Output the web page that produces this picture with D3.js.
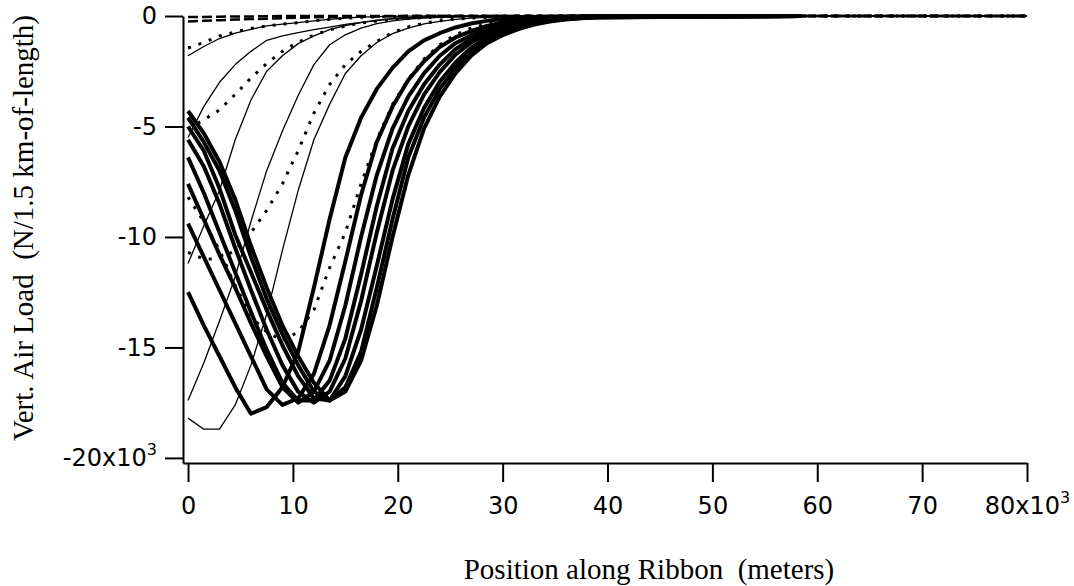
<!DOCTYPE html>
<html>
<head>
<meta charset="utf-8">
<script src="https://cdn.jsdelivr.net/npm/d3@7"></script>
<style>
  html, body { margin: 0; padding: 0; background: #fff; }
  svg { display: block; }
</style>
</head>
<body>
<svg id="chart" width="1074" height="586"></svg>
<script>
// Sample positions along the ribbon (km): 1.5 km segments, then the far tail
const positionKm = [0, 1.5, 3, 4.5, 6, 7.5, 9, 10.5, 12, 13.5, 15, 16.5, 18, 19.5,
  21, 22.5, 24, 25.5, 27, 28.5, 30, 31.5, 33, 34.5, 36, 37.5, 39, 58.5, 80];

// Vertical air load per 1.5 km segment, in units of 10^3 N.
// Heavy traces (run to 58.5 km)
const heavy1 = [-12.5, -14.0, -15.4, -16.8, -18.0, -17.7, -16.8, -15.2, -12.3, -9.2, -6.4, -4.6, -3.3, -2.35,
  -1.6, -1.1, -0.78, -0.52, -0.34, -0.22, -0.14, -0.09, -0.06, -0.04, -0.02, -0.01, 0, 0];
const heavy2 = [-9.4, -10.9, -12.4, -13.9, -15.4, -16.9, -17.6, -17.3, -16.2, -14.0, -11.1, -8.1, -5.7, -4.1,
  -2.9, -2.05, -1.4, -0.97, -0.68, -0.45, -0.29, -0.19, -0.12, -0.08, -0.05, -0.03, -0.02, 0];
const heavy3 = [-7.6, -9.2, -10.8, -12.3, -13.9, -15.4, -16.8, -17.5, -17.0, -15.6, -13.1, -10.0, -7.2, -5.1,
  -3.65, -2.6, -1.8, -1.23, -0.87, -0.59, -0.39, -0.25, -0.16, -0.1, -0.07, -0.05, -0.03, 0];
const heavy4 = [-6.4, -8.0, -9.8, -11.6, -13.4, -15.1, -16.6, -17.4, -17.4, -16.5, -14.6, -11.7, -8.6, -6.0,
  -4.3, -3.1, -2.2, -1.5, -1.04, -0.73, -0.48, -0.32, -0.2, -0.13, -0.085, -0.056, -0.036, 0];
const heavy5 = [-5.6, -6.8, -8.5, -10.5, -12.4, -14.2, -15.8, -17.0, -17.5, -17.0, -15.5, -12.9, -9.8, -7.0,
  -5.0, -3.56, -2.54, -1.75, -1.2, -0.84, -0.57, -0.38, -0.24, -0.16, -0.1, -0.066, -0.044, 0];
const heavy6 = [-5.0, -6.1, -7.8, -9.9, -11.6, -13.3, -14.9, -16.3, -17.3, -17.4, -16.3, -14.2, -11.3, -8.3,
  -5.8, -4.17, -2.98, -2.1, -1.43, -0.99, -0.69, -0.46, -0.3, -0.19, -0.12, -0.08, -0.053, 0];
const heavy7 = [-4.6, -5.7, -7.0, -8.8, -10.9, -12.8, -14.4, -15.8, -17.0, -17.4, -16.8, -15.2, -12.3, -9.2,
  -6.4, -4.6, -3.3, -2.35, -1.6, -1.1, -0.78, -0.52, -0.34, -0.22, -0.14, -0.09, -0.06, 0];
const heavy8 = [-4.3, -5.3, -6.6, -8.3, -10.4, -12.3, -14.0, -15.4, -16.6, -17.4, -17.0, -15.6, -13.1, -10.0,
  -7.2, -5.1, -3.65, -2.6, -1.8, -1.23, -0.87, -0.59, -0.39, -0.25, -0.16, -0.1, -0.07, 0];

// Light solid traces (run to 80 km)
const light1 = [-18.2, -18.7, -18.7, -17.6, -15.8, -13.5, -10.6, -7.9, -5.6, -4.0, -2.6, -1.8, -1.2, -0.8,
  -0.55, -0.36, -0.24, -0.15, -0.1, -0.06, -0.04, -0.03, -0.02, -0.01, -0.01, 0, 0, 0, 0];
const light2 = [-17.4, -15.7, -13.8, -11.8, -9.3, -7.0, -5.2, -3.6, -2.2, -1.3, -0.85, -0.55, -0.35, -0.22,
  -0.14, -0.09, -0.06, -0.04, -0.03, -0.02, -0.01, -0.01, 0, 0, 0, 0, 0, 0, 0];
const light3 = [-11.2, -9.5, -7.9, -5.6, -3.8, -2.5, -1.8, -1.25, -0.9, -0.62, -0.43, -0.3, -0.2, -0.13,
  -0.08, -0.05, -0.03, -0.02, -0.01, 0, 0, 0, 0, 0, 0, 0, 0, 0, 0];
const light4 = [-5.5, -4.1, -3.0, -2.2, -1.6, -1.1, -0.9, -0.75, -0.62, -0.5, -0.38, -0.29, -0.2, -0.12,
  -0.08, -0.05, -0.03, -0.02, -0.01, 0, 0, 0, 0, 0, 0, 0, 0, 0, 0];
const light5 = [-1.8, -1.38, -1.02, -0.78, -0.6, -0.45, -0.37, -0.3, -0.22, -0.15, -0.09, -0.05, -0.03, -0.02,
  -0.01, 0, 0, 0, 0, 0, 0, 0, 0, 0, 0, 0, 0, 0, 0];

// Dotted traces
const dotted1 = [-1.45, -1.2, -0.9, -0.72, -0.56, -0.45, -0.37, -0.3, -0.22, -0.15, -0.1, -0.06, -0.04, -0.02,
  -0.01, 0, 0, 0, 0, 0, 0, 0, 0, 0, 0, 0, 0, 0, 0];
const dotted2 = [-5.1, -4.7, -4.25, -3.55, -2.8, -2.15, -1.6, -1.18, -0.86, -0.63, -0.45, -0.32, -0.23, -0.16,
  -0.11, -0.07, -0.05, -0.03, -0.02, -0.01, 0, 0, 0, 0, 0, 0, 0, 0, 0];
const dotted3 = [-10.7, -11.0, -11.0, -10.6, -9.8, -8.8, -7.6, -6.1, -4.4, -3.1, -2.2, -1.6, -1.15, -0.75,
  -0.5, -0.33, -0.22, -0.14, -0.09, -0.06, -0.04, -0.02, -0.01, 0, 0, 0, 0, 0, 0];
const dotted4 = [-8.2, -9.3, -10.6, -12.2, -13.6, -14.3, -14.7, -14.3, -13.3, -11.4, -9.8, -7.6, -5.6, -4.0,
  -2.85, -1.95, -1.3, -0.85, -0.55, -0.35, -0.22, -0.14, -0.09, -0.05, -0.03, -0.02, -0.01, 0, 0];

// Dashed traces
const dashed1 = [-0.05, -0.04, -0.03, -0.02, -0.02, -0.01, 0, 0, 0, 0, 0, 0, 0, 0,
  0, 0, 0, 0, 0, 0, 0, 0, 0, 0, 0, 0, 0, 0, 0];
const dashed2 = [-0.25, -0.22, -0.19, -0.16, -0.14, -0.12, -0.1, -0.08, -0.06, -0.05, -0.04, -0.03, -0.02, -0.01,
  0, 0, 0, 0, 0, 0, 0, 0, 0, 0, 0, 0, 0, 0, 0];

// Axis ticks (km along x, 10^3 N along y)
const xTickValues = [0, 10, 20, 30, 40, 50, 60, 70, 80];
const yTickValues = [0, -5, -10, -15, -20];

const xTitle = "Position along Ribbon  (meters)";
const yTitle = "Vert. Air Load  (N/1.5 km-of-length)";

// Line styles for each trace family
const styles = {
  light:  { width: 1.3, dash: null },
  dotted: { width: 3,   dash: "3,8" },
  dashed: { width: 2.5, dash: "10,4" },
  heavy:  { width: 4,   dash: null }
};

const traces = [
  { values: light1, kind: "light" }, { values: light2, kind: "light" },
  { values: light3, kind: "light" }, { values: light4, kind: "light" },
  { values: light5, kind: "light" },
  { values: dotted1, kind: "dotted" }, { values: dotted2, kind: "dotted" },
  { values: dotted3, kind: "dotted" }, { values: dotted4, kind: "dotted" },
  { values: dashed1, kind: "dashed" }, { values: dashed2, kind: "dashed" },
  { values: heavy1, kind: "heavy" }, { values: heavy2, kind: "heavy" },
  { values: heavy3, kind: "heavy" }, { values: heavy4, kind: "heavy" },
  { values: heavy5, kind: "heavy" }, { values: heavy6, kind: "heavy" },
  { values: heavy7, kind: "heavy" }, { values: heavy8, kind: "heavy" }
];

const svg = d3.select("#chart");
svg.append("rect").attr("width", 1074).attr("height", 586).attr("fill", "#fff");

const x = d3.scaleLinear().domain([-0.48, 80]).range([183, 1027]);
const y = d3.scaleLinear().domain([-20.23, 0]).range([463, 16]);

const line = d3.line()
  .x((d, i) => x(positionKm[i]))
  .y(d => y(d));

svg.append("g").attr("class", "traces")
  .selectAll("path")
  .data(traces)
  .join("path")
  .attr("d", d => line(d.values))
  .attr("fill", "none")
  .attr("stroke", "#000")
  .attr("stroke-width", d => styles[d.kind].width)
  .attr("stroke-dasharray", d => styles[d.kind].dash)
  .attr("stroke-linejoin", "round");

// Left axis
const yAxisG = svg.append("g")
  .attr("transform", `translate(${x.range()[0]},0)`)
  .call(d3.axisLeft(y).tickValues(yTickValues).tickSize(18).tickSizeOuter(0).tickPadding(8)
    .tickFormat(d => d === -20 ? "-20x10" : String(d)));

// Bottom axis
const xAxisG = svg.append("g")
  .attr("transform", `translate(0,${y.range()[0]})`)
  .call(d3.axisBottom(x).tickValues(xTickValues).tickSize(19).tickSizeOuter(0).tickPadding(15)
    .tickFormat(d => d === 80 ? "80x10" : String(d)));

[yAxisG, xAxisG].forEach(g => {
  g.attr("font-family", "'DejaVu Sans', sans-serif").attr("font-size", 24);
  g.select(".domain").attr("stroke", "#000").attr("stroke-width", 2);
  g.selectAll(".tick line").attr("stroke", "#000").attr("stroke-width", 2);
  g.selectAll(".tick text").attr("fill", "#000");
});

// Exponent on the end labels
yAxisG.selectAll(".tick text").filter(d => d === -20)
  .append("tspan").attr("dy", -11).attr("font-size", 16).text("3");
xAxisG.selectAll(".tick text").filter(d => d === 80)
  .append("tspan").attr("dy", -11).attr("font-size", 16).text("3");

// Axis titles
svg.append("text")
  .attr("x", 649).attr("y", 579)
  .attr("text-anchor", "middle")
  .attr("font-family", "'Liberation Serif', 'Times New Roman', serif")
  .attr("font-size", 29)
  .style("white-space", "pre")
  .text(xTitle);

svg.append("text")
  .attr("transform", "translate(33,228) rotate(-90)")
  .attr("text-anchor", "middle")
  .attr("font-family", "'Liberation Serif', 'Times New Roman', serif")
  .attr("font-size", 29)
  .style("white-space", "pre")
  .text(yTitle);
</script>
</body>
</html>
